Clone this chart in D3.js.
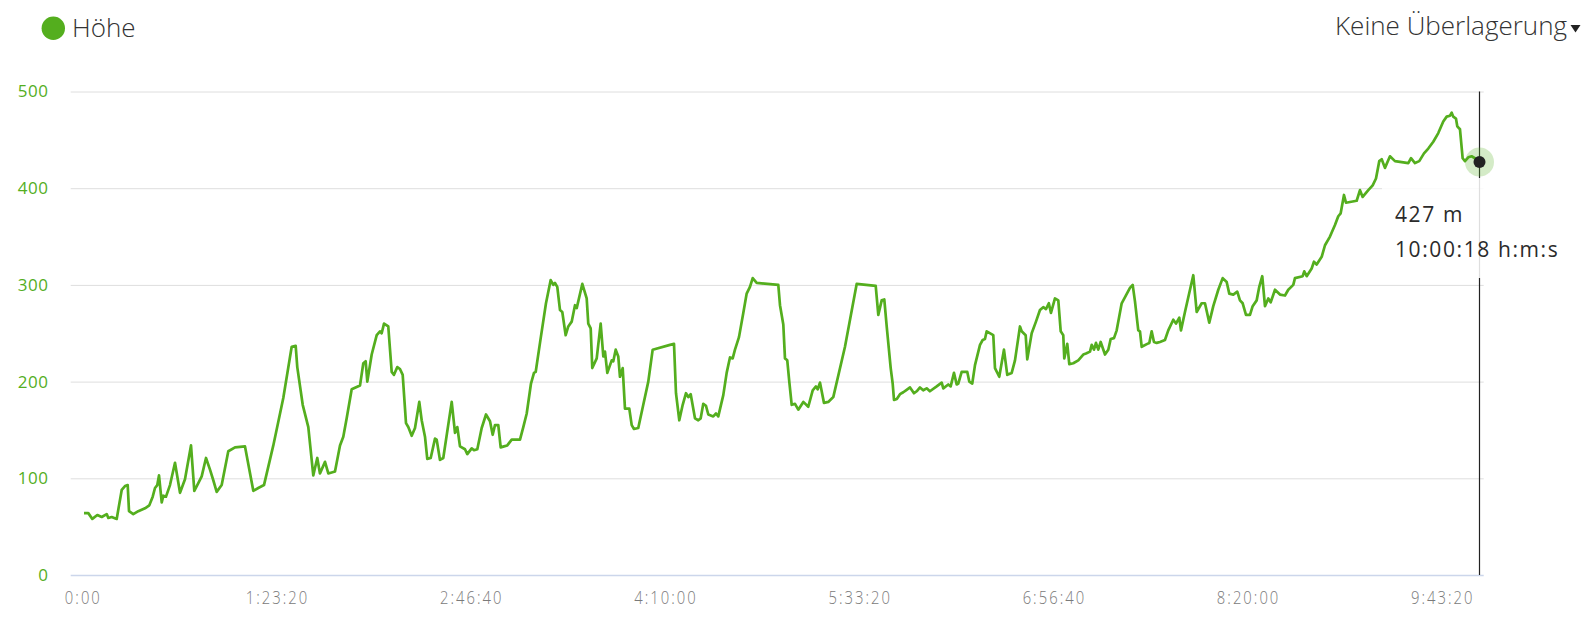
<!DOCTYPE html>
<html>
<head>
<meta charset="utf-8">
<script src="https://cdn.jsdelivr.net/npm/d3@7"></script>
<style>
  body { margin: 0; background: #fff; }
  svg { display: block; font-family: "Open Sans", sans-serif; }
</style>
</head>
<body>
<svg id="chart" width="1587" height="623"></svg>
<script>
// elapsed time in seconds, elevation in metres
var times = [90, 201, 304, 433, 546, 675, 716, 803, 932, 1061, 1146, 1215, 1249, 1359, 1488, 1661, 1771, 1859, 1918, 1977,
  2021, 2091, 2132, 2201, 2304, 2433, 2562, 2690, 2845, 2930, 3033, 3120, 3231, 3334, 3419, 3506, 3635, 3805, 3978, 4235,
  4449, 4577, 4724, 4964, 5221, 5437, 5540, 5581, 5721, 5865, 5993, 6096, 6165, 6295, 6380, 6552, 6681,
  6766, 6853, 6982, 7196, 7281, 7342, 7384, 7497, 7626, 7711, 7754, 7814, 7924, 8012, 8071, 8156, 8225, 8295, 8380, 8439,
  8527, 8612, 8722, 8784, 8869, 8928, 9016, 9127, 9170, 9255, 9340, 9557, 9642, 9701, 9770, 9899, 9958, 10071, 10131, 10216,
  10329, 10440, 10543, 10612, 10671, 10756, 10818, 10903, 10988, 11101, 11315, 11400, 11488, 11598, 11675, 11719, 11848,
  11984, 12105, 12172, 12216, 12275, 12345, 12404, 12491, 12558, 12646, 12731, 12775, 12919, 13032, 13073, 13135, 13176,
  13290, 13392, 13460, 13503, 13563, 13676, 13717, 13779, 13845, 13889, 13959, 14018, 14129,
  14191, 14250, 14360, 14489, 14618, 14731, 15177, 15280, 15331, 15416, 15504, 15589, 15648, 15710, 15820, 15905, 15967,
  16034, 16103, 16163, 16291, 16361, 16420, 16549, 16636, 16721, 16791, 16850, 16953, 17064, 17151, 17236, 17306, 17409,
  17965, 18009, 18094, 18137, 18196, 18248, 18310, 18395, 18480, 18609, 18737, 18851, 18935, 18979, 19038, 19141, 19252,
  19381, 19682, 19983, 20473, 20540, 20627, 20694, 20756, 20859, 20910, 20944, 21016, 21098, 21183, 21252, 21356, 21459,
  21528, 21613, 21696, 21785, 21868,
  22043, 22172, 22213, 22341, 22403, 22488, 22558, 22599, 22686, 22831, 22882, 22959, 23029, 23158, 23227, 23286, 23330,
  23500, 23544, 23654, 23775, 23860, 23974, 24059, 24187, 24231, 24334, 24375, 24489, 24599, 24702, 24787, 24857, 24930,
  24985, 25088, 25174, 25236, 25302, 25328, 25405, 25457, 25560, 25688, 25817, 25887, 25990, 26034, 26093, 26144, 26203,
  26265, 26376, 26461, 26523, 26608, 26677, 26806, 27019, 27089, 27148, 27233, 27277, 27321, 27465, 27517, 27578, 27637,
  27707, 27792,
  27920, 28005, 28134, 28204, 28289, 28332, 28435, 28649, 28737, 28865, 28950, 29061, 29164, 29293, 29406, 29509, 29576,
  29679, 29782, 29851, 29921, 30006, 30109, 30178, 30281, 30348, 30425, 30495, 30580, 30642, 30753, 30881, 31010, 31095,
  31224, 31267, 31466, 31506, 31569, 31697, 31756, 31826, 31955, 32040, 32168, 32297, 32382, 32444, 32529, 32580, 32856,
  32941, 33010, 33155, 33268, 33353, 33438, 33500, 33584, 33713, 33842, 34185, 34254, 34357, 34467, 34589, 34699, 34828,
  34957, 35085, 35173, 35258, 35302, 35342, 35412, 35446, 35515, 35584, 35644, 35729, 35815, 35901, 36018];

var elevations = [64, 64, 58, 62, 60, 63, 59, 60, 58, 88, 92, 93, 66, 63, 66, 69, 72, 81, 90, 93,
  103, 75, 82, 81, 93, 116, 85, 99, 134, 87, 95, 102, 121, 109, 98, 86, 93, 128, 132, 133,
  87, 90, 93, 134, 183, 236, 237, 215, 176, 153, 103, 121, 105, 117, 105, 107, 134,
  143, 162, 192, 196, 219, 221, 200, 228, 248, 252, 250, 260, 257, 210, 207, 215, 213, 207, 157, 153,
  144, 152, 179, 160, 143, 120, 121, 141, 140, 119, 121, 179, 147, 153, 133, 130, 125, 131, 129, 130,
  152, 166, 159, 145, 155, 155, 132, 133, 134, 140, 140, 153, 167, 198, 209, 210, 245,
  281, 305, 300, 302, 298, 274, 272, 248, 257, 262, 279, 276, 301, 286, 260, 255, 214,
  224, 260, 226, 231, 209, 222, 221, 233, 226, 205, 214, 172, 172,
  155, 151, 152, 176, 200, 233, 238, 239, 188, 160, 176, 188, 184, 187, 162, 160, 162,
  177, 175, 166, 164, 167, 164, 186, 209, 225, 224, 233, 246, 271, 291, 298, 307, 302,
  300, 279, 259, 224, 222, 200, 176, 177, 171, 179, 174, 191, 195, 192, 199, 178, 179,
  184, 236, 301, 299, 269, 284, 285, 257, 214, 198, 181, 182, 187, 189, 191, 194, 188,
  190, 194, 191, 193, 190,
  195, 199, 193, 197, 195, 209, 197, 198, 210, 210, 200, 198, 217, 238, 243, 244, 252,
  248, 214, 205, 233, 207, 209, 222, 257, 252, 248, 223, 250, 262, 274, 277, 275, 281,
  271, 286, 284, 252, 248, 224, 239, 218, 219, 222, 228, 229, 231, 238, 233, 240, 233,
  241, 228, 233, 244, 245, 253, 281, 297, 300, 283, 253, 252, 236, 239, 240, 252, 241,
  240, 241,
  243, 253, 264, 260, 266, 253, 272, 310, 272, 281, 281, 261, 278, 295, 307, 303, 291,
  290, 293, 284, 281, 269, 269, 278, 284, 298, 309, 278, 286, 282, 295, 290, 289, 295,
  300, 307, 309, 314, 309, 317, 324, 321, 329, 341, 350, 362, 371, 374, 393, 385, 387,
  398, 391, 398, 403, 410, 428, 430, 421, 433, 428, 426, 431, 426, 428, 436, 441, 448,
  457, 469, 474, 475, 478, 474, 472, 464, 461, 431, 428, 432, 433, 431, 427];

var xTickValues = [0, 5000, 10000, 15000, 20000, 25000, 30000, 35000];
var xTickLabels = ["0:00", "1:23:20", "2:46:40", "4:10:00", "5:33:20", "6:56:40", "8:20:00", "9:43:20"];
var yTickValues = [0, 100, 200, 300, 400, 500];

var seriesName = "Höhe";
var overlayLabel = "Keine Überlagerung";
var current = { t: 36018, e: 427, label1: "427 m", label2: "10:00:18 h:m:s" };

var green = "#54ae1e";
var svg = d3.select("#chart");

var x = d3.scaleLinear().domain([0, 36018]).range([80.5, 1479.5]);
var y = d3.scaleLinear().domain([0, 500]).range([575, 91.5]);

var plotLeft = 70.7, plotRight = 1483.7;

// y axis with grid lines
var yAxis = svg.append("g")
    .attr("transform", "translate(" + plotLeft + ",0)")
    .call(d3.axisLeft(y)
      .tickValues(yTickValues)
      .tickSize(-(plotRight - plotLeft))
      .tickPadding(22)
      .tickFormat(d3.format("d")));
yAxis.select(".domain").remove();
yAxis.selectAll(".tick line")
    .attr("stroke", function(d) { return d === 0 ? "#ccd6eb" : "#dedede"; })
    .attr("stroke-width", function(d) { return d === 0 ? 1.5 : 1; });
yAxis.selectAll(".tick text")
    .attr("fill", green)
    .style("font-family", "'Open Sans', sans-serif")
    .style("font-size", "17px")
    .style("letter-spacing", "0.6px");

// x axis labels (narrow look: squeeze horizontally)
var xAxis = svg.append("g")
    .attr("transform", "translate(0,575)")
    .call(d3.axisBottom(x)
      .tickValues(xTickValues)
      .tickSize(0)
      .tickPadding(16)
      .tickFormat(function(d, i) { return xTickLabels[i]; }));
xAxis.select(".domain").remove();
xAxis.selectAll(".tick text")
    .attr("fill", "#7a7a7a")
    .attr("transform", "scale(0.78,1)")
    .attr("dx", 3)
    .style("font-family", "'Open Sans', sans-serif")
    .style("font-weight", 300)
    .style("font-size", "19px")
    .style("letter-spacing", "2.6px");

// elevation line
var data = times.map(function(t, i) { return { t: t, e: elevations[i] }; });
var line = d3.line()
    .x(function(d) { return x(d.t); })
    .y(function(d) { return y(d.e); });

svg.append("path")
    .datum(data)
    .attr("d", line)
    .attr("fill", "none")
    .attr("stroke", green)
    .attr("stroke-width", 2.7)
    .attr("stroke-linejoin", "round");

// crosshair
svg.append("line")
    .attr("x1", x(current.t)).attr("x2", x(current.t))
    .attr("y1", y(500)).attr("y2", y(0))
    .attr("stroke", "#222")
    .attr("stroke-width", 1.2);

svg.append("circle")
    .attr("cx", x(current.t)).attr("cy", y(current.e))
    .attr("r", 14.5)
    .attr("fill", green)
    .attr("fill-opacity", 0.25);
svg.append("circle")
    .attr("cx", x(current.t)).attr("cy", y(current.e))
    .attr("r", 6)
    .attr("fill", "#222");

// tooltip
svg.append("rect")
    .attr("x", 1382).attr("y", 178)
    .attr("width", 210).attr("height", 100)
    .attr("fill", "#fff")
    .attr("fill-opacity", 0.85);
var tip = svg.append("g")
    .attr("fill", "#2b2b2b")
    .style("font-size", "21px")
    .style("letter-spacing", "1.6px");
tip.append("text").attr("x", 1395).attr("y", 221.5).text(current.label1);
tip.append("text").attr("x", 1395).attr("y", 256.5).text(current.label2);

// legend
svg.append("circle")
    .attr("cx", 53.3).attr("cy", 28.3).attr("r", 11.7)
    .attr("fill", green);
svg.append("text")
    .attr("x", 72).attr("y", 37)
    .attr("fill", "#333")
    .style("font-size", "26px")
    .style("font-weight", 300)
    .text(seriesName);

// overlay selector
svg.append("text")
    .attr("x", 1567).attr("y", 35)
    .attr("text-anchor", "end")
    .attr("fill", "#333")
    .style("font-size", "26px")
    .style("font-weight", 300)
    .text(overlayLabel);
svg.append("path")
    .attr("d", "M1570.5,25 L1580.5,25 L1575.5,32.5 Z")
    .attr("fill", "#222");
</script>
</body>
</html>
